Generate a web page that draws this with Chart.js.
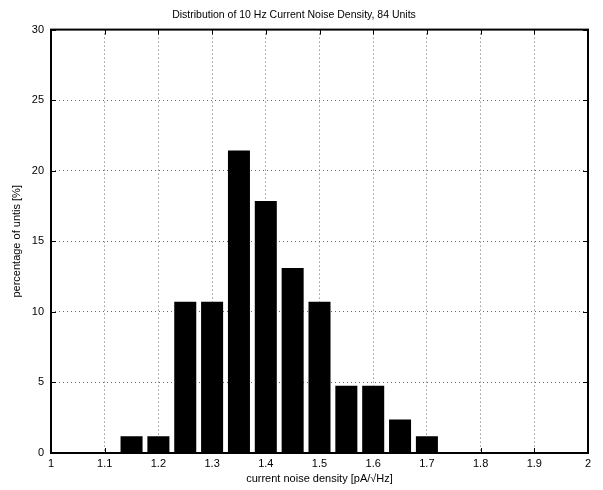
<!DOCTYPE html>
<html>
<head>
<meta charset="utf-8">
<script src="https://cdn.jsdelivr.net/npm/chart.js@4"></script>
<style>
  html, body { margin: 0; padding: 0; background: #fff; }
  #wrap { width: 603px; height: 490px; }
</style>
</head>
<body>
<div id="wrap"><canvas id="chart"></canvas></div>
<script>
// bin centres of the histogram
const binCenters = [1.15, 1.2, 1.25, 1.3, 1.35, 1.4, 1.45, 1.5, 1.55, 1.6, 1.65, 1.7];
// percentage of units per bin (84 units)
const percentValues = [1.19, 1.19, 10.71, 10.71, 21.43, 17.86, 13.10, 10.71, 4.76, 4.76, 2.38, 1.19];
const xTicks = [1, 1.1, 1.2, 1.3, 1.4, 1.5, 1.6, 1.7, 1.8, 1.9, 2];
const yTicks = [0, 5, 10, 15, 20, 25, 30];

const FONT = 'Liberation Sans, Arial, Helvetica, sans-serif';

// box round the plot plus the small inward tick marks
const framePlugin = {
    id: 'frame',
    afterDatasetsDraw(chart) {
        const { ctx, chartArea: a, scales } = chart;
        ctx.save();
        ctx.strokeStyle = '#000';
        ctx.lineWidth = 1;
        ctx.beginPath();
        xTicks.forEach(v => {
            const px = Math.round(scales.x.getPixelForValue(v)) + 0.5;
            ctx.moveTo(px, a.bottom); ctx.lineTo(px, a.bottom - 5);
            ctx.moveTo(px, a.top); ctx.lineTo(px, a.top + 5);
        });
        yTicks.forEach(v => {
            const py = Math.round(scales.y.getPixelForValue(v)) + 0.5;
            ctx.moveTo(a.left, py); ctx.lineTo(a.left + 5, py);
            ctx.moveTo(a.right, py); ctx.lineTo(a.right - 5, py);
        });
        ctx.stroke();
        ctx.lineWidth = 2;
        ctx.strokeRect(a.left, a.top, a.right - a.left, a.bottom - a.top);
        ctx.restore();
    }
};

new Chart(document.getElementById('chart'), {
    type: 'bar',
    data: {
        datasets: [{
            label: 'percentage of units',
            data: binCenters.map((x, i) => ({ x: x, y: percentValues[i] })),
            backgroundColor: '#000',
            borderWidth: 0,
            categoryPercentage: 1,
            barPercentage: 0.82
        }]
    },
    options: {
        responsive: true,
        maintainAspectRatio: false,
        animation: false,
        layout: { padding: { left: 0, right: 15, top: 0, bottom: 0 } },
        plugins: {
            legend: { display: false },
            tooltip: { enabled: false },
            title: {
                display: true,
                text: 'Distribution of 10 Hz Current Noise Density, 84 Units',
                color: '#000',
                font: { family: FONT, size: 10.5, weight: 'normal' },
                padding: { top: 9, bottom: 8 }
            }
        },
        scales: {
            x: {
                type: 'linear',
                min: 1,
                max: 2,
                offset: false,
                afterBuildTicks: s => { s.ticks = xTicks.map(v => ({ value: v })); },
                afterFit: s => { s.height = 37; },
                ticks: {
                    color: '#000',
                    font: { family: FONT, size: 11 },
                    padding: 4,
                    maxRotation: 0,
                    callback: v => String(v)
                },
                grid: { color: '#666', drawTicks: false, lineWidth: 1, offset: false },
                border: { display: false, dash: [1, 3] },
                title: {
                    display: true,
                    text: 'current noise density [pA/\u221AHz]',
                    color: '#000',
                    font: { family: FONT, size: 11 },
                    padding: { top: 2, bottom: 4 }
                }
            },
            y: {
                min: 0,
                max: 30,
                afterBuildTicks: s => { s.ticks = yTicks.map(v => ({ value: v })); },
                afterFit: s => { s.width = 51; },
                ticks: {
                    color: '#000',
                    font: { family: FONT, size: 11 },
                    padding: 7
                },
                grid: { color: '#666', drawTicks: false, lineWidth: 1 },
                border: { display: false, dash: [1, 3] },
                title: {
                    display: true,
                    text: 'percentage of untis [%]',
                    color: '#000',
                    font: { family: FONT, size: 11 },
                    padding: { top: 10, bottom: 0 }
                }
            }
        }
    },
    plugins: [framePlugin]
});
</script>
</body>
</html>
